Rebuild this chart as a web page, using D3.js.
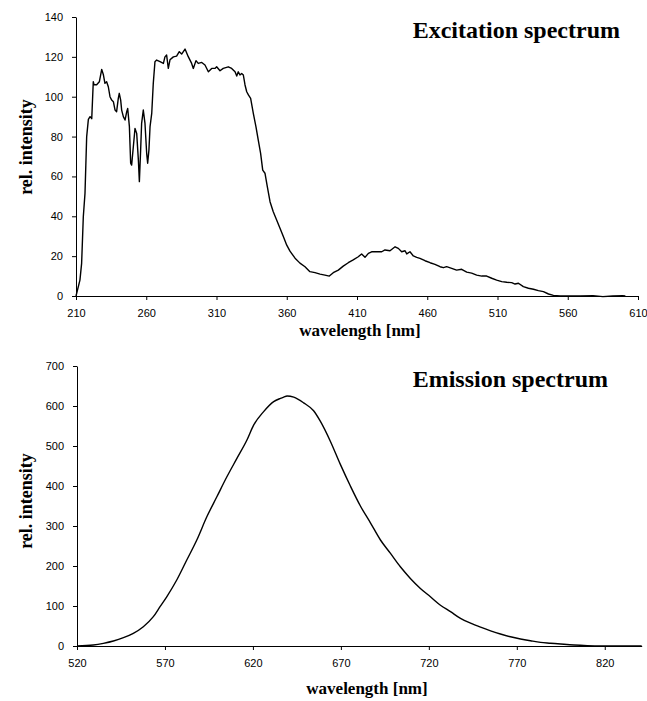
<!DOCTYPE html>
<html>
<head>
<meta charset="utf-8">
<script src="https://cdn.jsdelivr.net/npm/d3@7"></script>
<style>
  body { margin: 0; background: #fff; }
  .axis text { font-family: Arial, "Liberation Sans", sans-serif; font-size: 11px; fill: #000; }
  .axis path, .axis line { stroke: #000; stroke-width: 1; }
  .title { font-family: "Liberation Serif", "Times New Roman", serif; font-weight: bold; font-size: 24px; }
  .label { font-family: "Liberation Serif", "Times New Roman", serif; font-weight: bold; }
  .curve { fill: none; stroke: #000; stroke-width: 1.4; stroke-linejoin: round; }
</style>
</head>
<body>
<script>
// excitation spectrum
const exWl = [210,212.8,214,215.2,216.4,217.6,218.8,220,221.2,222.3,222.8,224.7,226.6,228.3,229.5,230.6,231.8,233,234.2,235.4,236.6,237.8,238.9,240.1,240.8,241.8,242.5,243.7,244.9,246.1,246.8,248,248.9,249.6,250.8,252,253.2,254.4,255.1,256,256.7,257.9,259.1,260.3,261,261.9,262.7,263.9,265,266.2,267.4,269.8,272.2,273.3,274.5,275.7,276.9,279.3,281.6,283.5,285.2,287.6,289.9,292.3,293.5,295.4,297,299.5,301.8,304.2,306.6,308.9,310.1,312.5,314.8,318.4,320.8,323.2,324.4,325.5,326.7,327.9,329.1,330.3,331.5,332.7,334.3,336.2,338.1,339.7,341.4,342.9,344.5,346.2,348.1,350.4,352.8,355.2,357.5,360,362.3,365.9,369.4,373,376.5,380.1,383.7,387.2,390.3,393.1,396.7,400.2,403.8,407.3,410.9,413.3,415.7,418.1,420.4,424,427.6,429.9,433.5,437.1,439.4,441.8,444.2,445.4,447.7,450.1,452.5,454.8,458.4,462,465.5,469.1,471.5,473.8,477.4,480.9,484.5,488.1,491.6,495.2,498.8,502.3,505.9,509.4,513,516.6,520.1,522.5,524.9,528.4,532,535.6,539.1,542.7,546.3,549.8,554.6,561.7,568.8,578,585,592,599,601];
const exInt = [0,8,16.4,39.8,51.5,80,88.6,90,89,107.5,106,106,107.5,113.7,111,106.7,107.5,105,100,98.3,97.5,93.3,92.5,99.2,101.7,98.3,93.3,90,88.3,92.5,94.1,85,66.6,65.7,74.9,84.1,81.6,68.2,57.4,73.2,86.6,93.3,86.6,71.6,66.6,73.2,85,91.6,106.7,117.6,118.4,117.6,116.7,120,120.9,114.2,118.5,120,120.4,122.6,121.4,123.9,120.1,116.7,114.2,118.1,116.7,117.2,115.9,112.5,114.2,114.2,115,113,114.2,115,114.2,112.5,110.4,112.5,110.9,111.7,110.9,105.9,102.5,100.9,99.2,91.7,84.9,78.3,71.6,63.2,61.6,54.8,47.3,42.3,38.1,34,30,25.5,22.5,19,16.5,14.7,12.2,11.7,11,10.5,10,11.7,13,15,16.7,18.1,19.7,21.1,19.4,21.4,22.2,22.2,22.2,23.1,22.7,24.7,23.9,22.2,22.7,21.1,22.2,20.1,19.4,18.9,17.7,16.7,15.9,14.7,14.2,14.7,13.9,13,13.4,12,11.5,10.5,10,10,8.9,8,7.2,6.9,6.7,6,6.4,4.7,3.9,3.4,2.7,2.2,1,0.3,0,0,0,0.2,-0.3,0,0.2,0];

// emission spectrum
const emWl = [520,529.3,535,540.7,546.4,552,557.7,563.4,567.2,571,576.7,582.4,588.1,593.8,599.5,605.2,610.9,616.6,620.4,626.1,631.8,635.6,637.5,639.4,643.2,648.8,654.5,658.3,664,669.7,675.4,681.1,686.8,692.5,698.1,703.8,709.5,715.2,720.9,726.6,732.3,738,743.7,749.4,755.1,760.7,766.4,772.1,777.8,783.5,789.2,794.9,802.5,810.1,819.5,841];
const emInt = [0,2.5,6.7,12.5,20.8,31.7,48.3,73.3,98.3,123,165,215,265,323,373,423,469,515,552,586,611,619,622,625,622,608,588,562,512,454,400,350,308,265,232,198,169,144,123,102,86,69,57,47,38,30,23,17.5,13,9,7,5,2.5,1,0.3,0];

const exXTicks = [210,260,310,360,410,460,510,560,610];
const exYTicks = [0,20,40,60,80,100,120,140];
const emXTicks = [520,570,620,670,720,770,820];
const emYTicks = [0,100,200,300,400,500,600,700];

const w = 647, h = 701;

const svg = d3.select("body").append("svg")
  .attr("width", w)
  .attr("height", h);

function panel(p){
  const x = d3.scaleLinear().domain(p.xDomain).range([p.left, p.right]);
  const y = d3.scaleLinear().domain(p.yDomain).range([p.bottom, p.top]);

  svg.append("g")
    .attr("class", "axis")
    .attr("transform", "translate(0," + p.bottom + ")")
    .call(d3.axisBottom(x).tickValues(p.xTicks).tickSize(4).tickSizeOuter(0).tickPadding(9).tickFormat(d3.format("d")));

  svg.append("g")
    .attr("class", "axis")
    .attr("transform", "translate(" + p.left + ",0)")
    .call(d3.axisLeft(y).tickValues(p.yTicks).tickSize(4).tickSizeOuter(0).tickPadding(9).tickFormat(d3.format("d")));

  const line = d3.line()
    .x((d, i) => x(p.wl[i]))
    .y(d => y(d))
    .curve(p.curve);

  svg.append("path")
    .datum(p.vals)
    .attr("class", "curve")
    .attr("d", line);

  // titles and labels
  svg.append("text")
    .attr("class", "title")
    .attr("x", p.titleX)
    .attr("y", p.titleY)
    .attr("text-anchor", "end")
    .text(p.title);

  svg.append("text")
    .attr("class", "label")
    .attr("transform", "translate(32," + p.yLabelY + ") rotate(-90)")
    .attr("text-anchor", "middle")
    .style("font-size", "18px")
    .text("rel. intensity");

  svg.append("text")
    .attr("class", "label")
    .attr("x", p.xLabelX)
    .attr("y", p.xLabelY)
    .attr("text-anchor", "middle")
    .style("font-size", "17px")
    .text("wavelength [nm]");
}

panel({
  xDomain: [210, 610], yDomain: [0, 140],
  left: 76, right: 638, top: 17, bottom: 296,
  xTicks: exXTicks, yTicks: exYTicks,
  wl: exWl, vals: exInt, curve: d3.curveLinear,
  title: "Excitation spectrum", titleX: 620, titleY: 38,
  yLabelY: 147, xLabelX: 360, xLabelY: 336
});

panel({
  xDomain: [520, 841], yDomain: [0, 700],
  left: 77, right: 641.7, top: 366, bottom: 646,
  xTicks: emXTicks, yTicks: emYTicks,
  wl: emWl, vals: emInt, curve: d3.curveMonotoneX,
  title: "Emission spectrum", titleX: 608, titleY: 387,
  yLabelY: 501, xLabelX: 367, xLabelY: 694
});
</script>
</body>
</html>
